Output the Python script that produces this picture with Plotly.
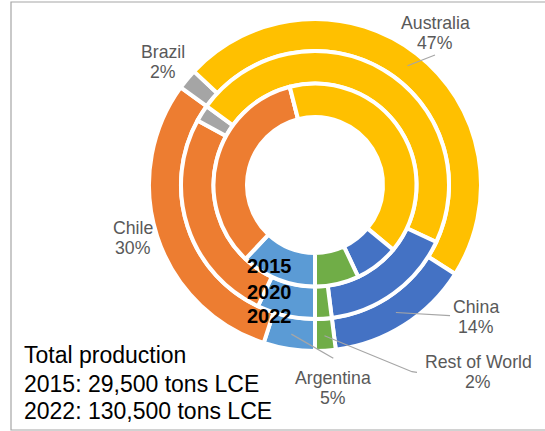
import math
import plotly.graph_objects as go

# Lithium production share by country (%), three years drawn as nested rings
countries = ["Argentina", "Chile", "Brazil", "Australia", "China", "Rest of World"]
share_2015 = [12, 34, 0, 40, 7, 7]
share_2020 = [7, 26, 2, 47, 16, 2]
share_2022 = [5, 30, 2, 47, 14, 2]
years = ["2015", "2020", "2022"]
totals = ["Total production", "2015: 29,500 tons LCE", "2022: 130,500 tons LCE"]

colors = ["#5B9BD5", "#ED7D31", "#A5A5A5", "#FFC000", "#4472C4", "#70AD47"]

W, H = 545, 431
CX, CY = 315, 185
FONT = "Arial, Liberation Sans, sans-serif"


def px_x(x):
    return x / W


def px_y(y):
    return 1 - y / H


def ring(values, r_out, r_in):
    return go.Pie(
        labels=countries,
        values=values,
        sort=False,
        direction="clockwise",
        rotation=180,
        hole=r_in / r_out,
        marker=dict(colors=colors, line=dict(color="white", width=4)),
        textinfo="none",
        hoverinfo="label+percent",
        showlegend=False,
        domain=dict(
            x=[px_x(CX - r_out), px_x(CX + r_out)],
            y=[px_y(CY + r_out), px_y(CY - r_out)],
        ),
    )


fig = go.Figure()
fig.add_trace(ring(share_2022, 166, 134))
fig.add_trace(ring(share_2020, 134, 101.5))
fig.add_trace(ring(share_2015, 101.5, 68))


# Point on the outer ring at the middle of a 2022 slice
def slice_anchor(idx, r=151):
    total = sum(share_2022)
    cum = sum(share_2022[:idx]) + share_2022[idx] / 2
    th = 2 * math.pi * cum / total
    return CX - r * math.sin(th), CY + r * math.cos(th)


# Label block centre (px) and leader line route for each country
label_pos = {
    "Argentina": (332.5, 388),
    "Chile": (133, 238),
    "Brazil": (162.5, 62),
    "Australia": (435, 33),
    "China": (476, 317),
    "Rest of World": (478, 372),
}
leaders = {
    "Australia": [(435, 55)],
    "China": [(450, 315.7)],
    "Rest of World": [(412, 371.7), (417, 372.3)],
    "Argentina": [(333.3, 358.3)],
}

annotations = []
shapes = []
LEAD = "#A6A6A6"
for i, name in enumerate(countries):
    lx, ly = label_pos[name]
    for text, dy in ((name, -10), (f"{share_2022[i]}%", 10)):
        annotations.append(dict(
            x=px_x(lx), y=px_y(ly + dy), xref="paper", yref="paper",
            text=text, showarrow=False, xanchor="center", yanchor="middle",
            font=dict(family=FONT, size=17.7, color="#595959"),
        ))
    if name in leaders:
        pts = [slice_anchor(i)] + leaders[name]
        path = "M " + " L ".join(f"{px_x(x)},{px_y(y)}" for x, y in pts)
        shapes.append(dict(type="path", path=path, xref="paper", yref="paper",
                           line=dict(color=LEAD, width=1.2)))

# Year tags for the rings
for yr, yc in zip(years, (266, 291.5, 316)):
    annotations.append(dict(
        x=px_x(269), y=px_y(yc), xref="paper", yref="paper", text=f"<b>{yr}</b>",
        showarrow=False, xanchor="center", yanchor="middle",
        font=dict(family=FONT, size=20, color="#000000"),
    ))

# Production totals
for t, yc in zip(totals, (355, 384, 411)):
    annotations.append(dict(
        x=px_x(22), y=px_y(yc), xref="paper", yref="paper", text=t,
        showarrow=False, xanchor="left", yanchor="middle",
        font=dict(family=FONT, size=23, color="#000000"),
    ))

# Chart frame
shapes.append(dict(type="rect", xref="paper", yref="paper",
                   x0=px_x(11), x1=px_x(W + 2), y0=px_y(430), y1=px_y(2),
                   line=dict(color="#A6A6A6", width=1.2)))

fig.update_layout(
    width=W, height=H,
    margin=dict(l=0, r=0, t=0, b=0),
    paper_bgcolor="white",
    plot_bgcolor="white",
    annotations=annotations,
    shapes=shapes,
)

fig.write_html("out.html")
